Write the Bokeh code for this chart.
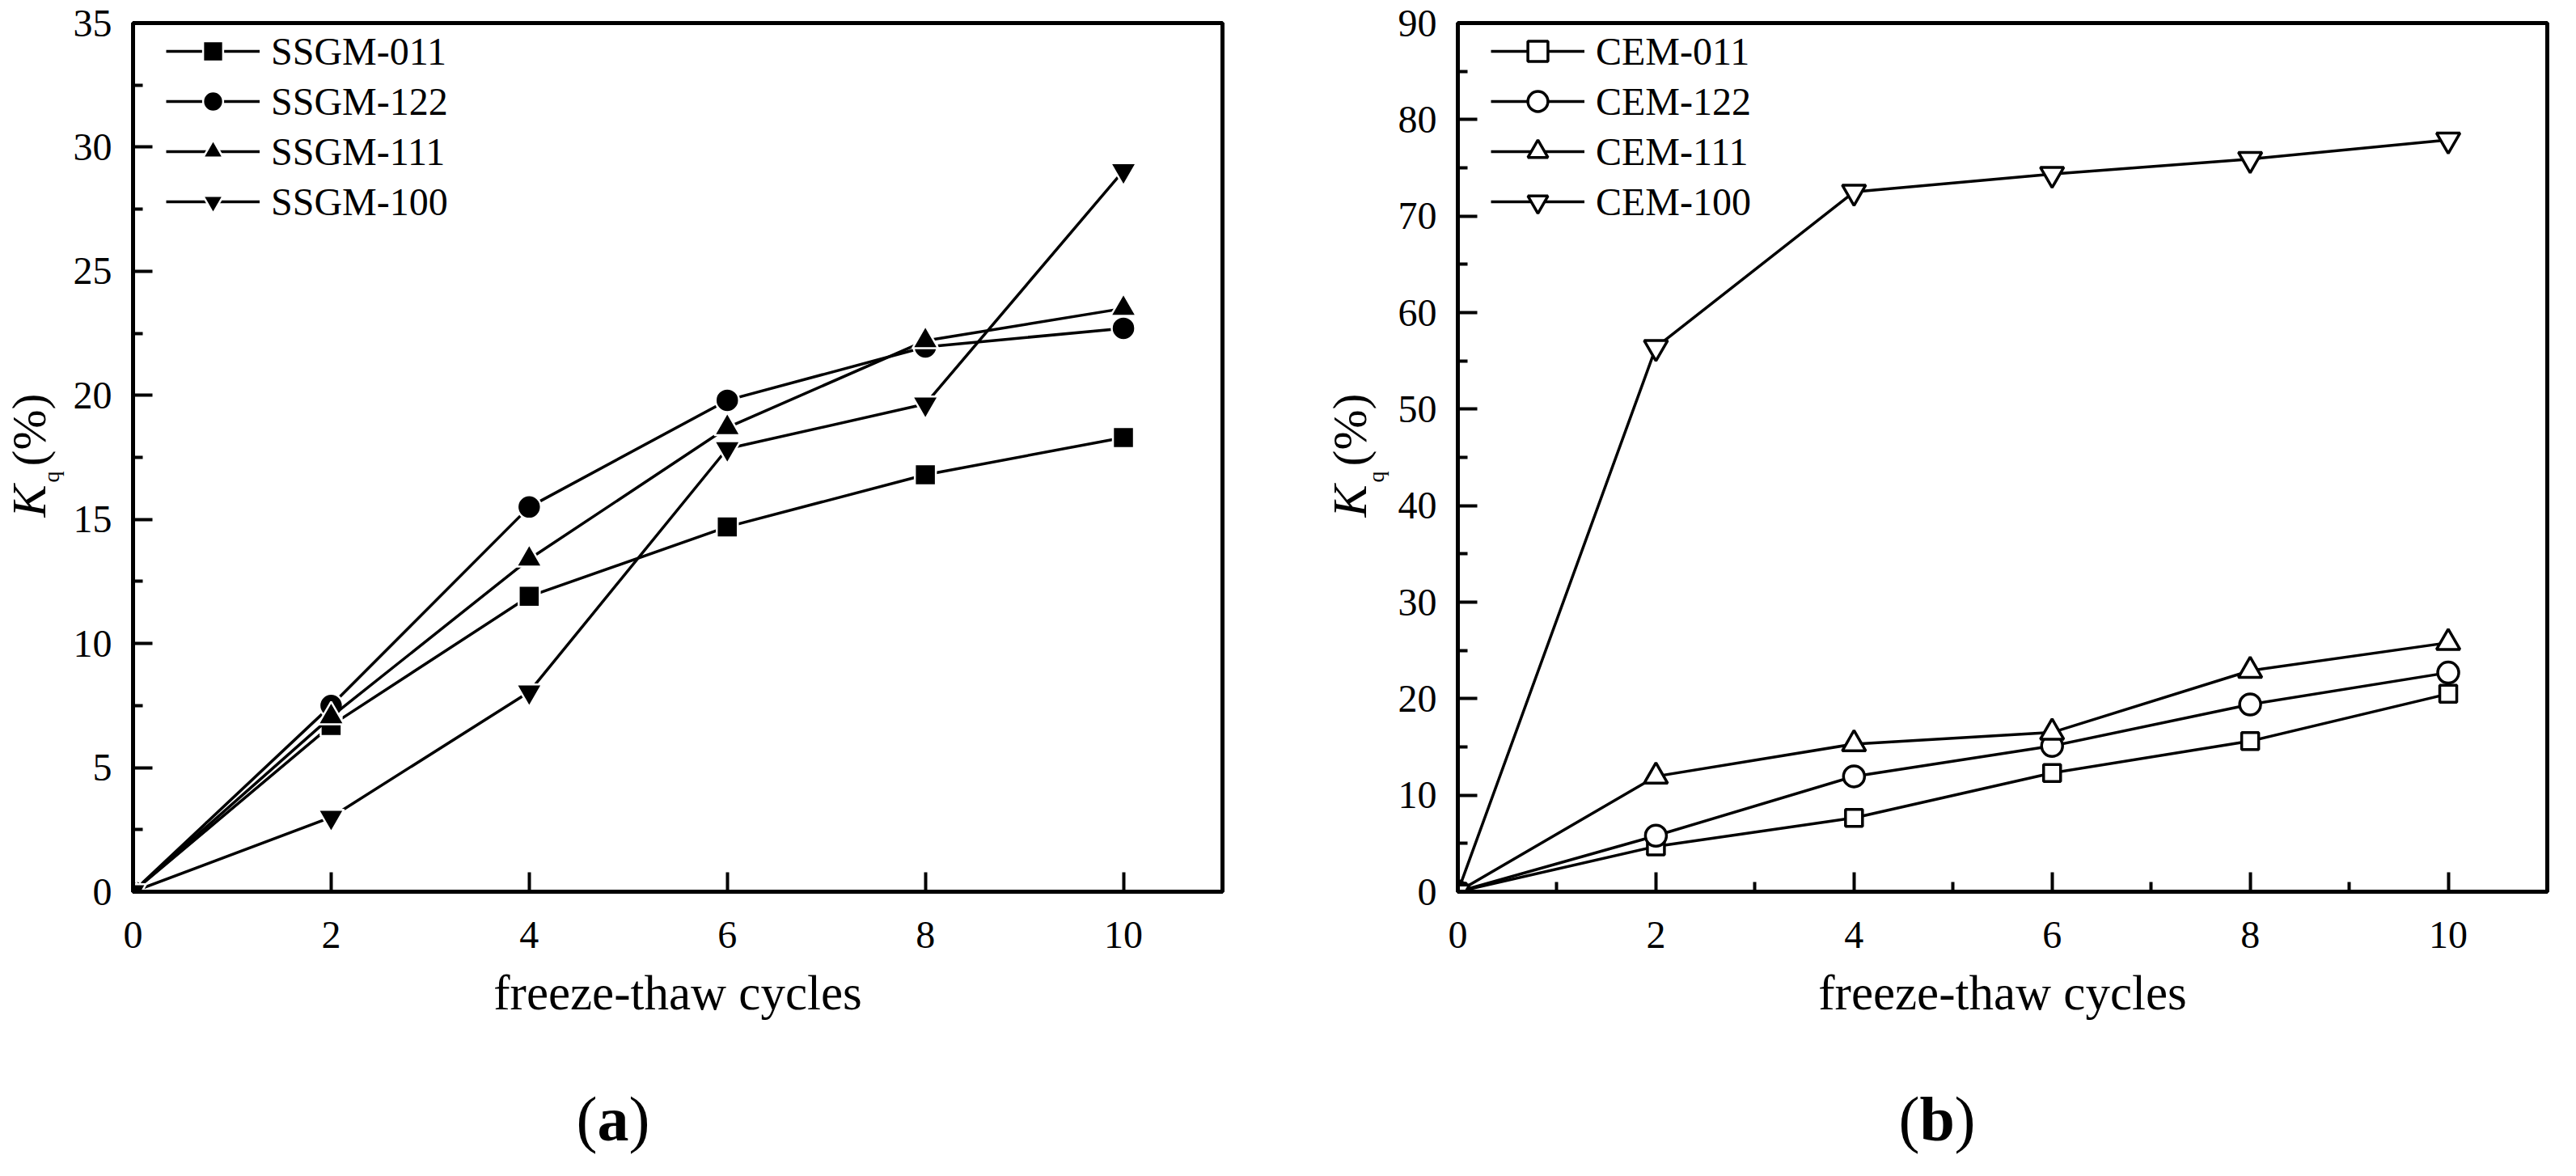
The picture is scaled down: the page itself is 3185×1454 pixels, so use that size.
import math
from bokeh.plotting import figure
from bokeh.models import Range1d, FixedTicker, Legend, LegendItem
from bokeh.layouts import row, column
from bokeh.core.properties import value
from bokeh.embed import file_html
from bokeh.resources import INLINE

# ---------------- data ----------------
cycles = [0, 2, 4, 6, 8, 10]

ssgm_names = ["SSGM-011", "SSGM-122", "SSGM-111", "SSGM-100"]
ssgm_011 = [0, 6.7, 11.9, 14.7, 16.8, 18.3]
ssgm_122 = [0, 7.5, 15.5, 19.8, 21.95, 22.7]
ssgm_111 = [0, 7.05, 13.4, 18.7, 22.2, 23.5]
ssgm_100 = [0, 3.0, 8.05, 17.85, 19.65, 29.05]

cem_names = ["CEM-011", "CEM-122", "CEM-111", "CEM-100"]
cem_011 = [0, 4.7, 7.65, 12.3, 15.6, 20.5]
cem_122 = [0, 5.8, 11.95, 15.1, 19.4, 22.7]
cem_111 = [0, 11.95, 15.3, 16.5, 22.9, 25.8]
cem_100 = [0, 56.4, 72.5, 74.35, 75.9, 77.9]

x_major = [0, 2, 4, 6, 8, 10]
x_minor_a = []
x_minor_b = [1, 3, 5, 7, 9]
y_major_a = [0, 5, 10, 15, 20, 25, 30, 35]
y_minor_a = [2.5, 7.5, 12.5, 17.5, 22.5, 27.5, 32.5]
y_major_b = [0, 10, 20, 30, 40, 50, 60, 70, 80, 90]
y_minor_b = [5, 15, 25, 35, 45, 55, 65, 75, 85]

x_title = "freeze-thaw cycles"
y_title_parts = ["K", "q", "(%)"]
tags = ["a", "b"]

markers = ["square", "circle", "triangle", "inverted_triangle"]

FONT = "Liberation Serif"
ROW_H = 1292          # page y 8 .. 1300
TOP = 28
BOTTOM = 190
STRIP_H = 146         # page y 1300 .. 1446
MID = 0.3375          # distance baseline -> em-box middle, in em


def blank(width, height):
    f = figure(frame_width=width, frame_height=height, title=None,
               x_range=Range1d(0, width), y_range=Range1d(0, height),
               x_axis_type=None, y_axis_type=None,
               output_backend="svg", toolbar_location=None, min_border=0,
               frame_align=False)
    f.outline_line_color = None
    f.background_fill_color = "white"
    f.border_fill_color = "white"
    return f


def ylabel_fig(width, kx, qoff):
    # kx: x (px, local) of the baseline of "K" / "(%)"; text anchored at em middle
    f = blank(width, ROW_H)
    rot = math.pi / 2
    f.text(x=[kx - MID * 60], y=[ROW_H + 8 - 647], text=[y_title_parts[0]], angle=rot,
           text_font=value(FONT), text_font_size="60px", text_font_style="italic",
           text_align="left", text_baseline="middle", text_color="black")
    f.text(x=[kx + qoff - MID * 28], y=[ROW_H + 8 - 604], text=[y_title_parts[1]], angle=rot,
           text_font=value(FONT), text_font_size="28px",
           text_align="left", text_baseline="middle", text_color="black")
    f.text(x=[kx - MID * 60], y=[ROW_H + 8 - 584], text=[y_title_parts[2]], angle=rot,
           text_font=value(FONT), text_font_size="60px",
           text_align="left", text_baseline="middle", text_color="black")
    return f


def make_panel(width, mleft, mright, ymax, ymaj, ymin, xmin, series, names, sizes, filled):
    p = figure(width=width, height=ROW_H, x_range=Range1d(0, 11), y_range=Range1d(0, ymax),
               title=None, output_backend="svg", toolbar_location=None,
               min_border_left=mleft, min_border_right=mright,
               min_border_top=TOP, min_border_bottom=BOTTOM, frame_align=False)
    p.background_fill_color = "white"
    p.border_fill_color = "white"
    p.outline_line_color = "black"
    p.outline_line_width = 5
    p.outline_line_alpha = 1
    p.xgrid.visible = False
    p.ygrid.visible = False

    p.xaxis.ticker = FixedTicker(ticks=x_major, minor_ticks=xmin)
    p.yaxis.ticker = FixedTicker(ticks=ymaj, minor_ticks=ymin)
    for ax in (p.xaxis[0], p.yaxis[0]):
        ax.axis_line_width = 5
        ax.axis_line_color = "black"
        ax.major_tick_in = 24
        ax.major_tick_out = 0
        ax.minor_tick_in = 12
        ax.minor_tick_out = 0
        ax.major_tick_line_width = 4
        ax.minor_tick_line_width = 4
        ax.major_tick_line_color = "black"
        ax.minor_tick_line_color = "black"
        ax.major_label_text_font = FONT
        ax.major_label_text_font_size = "48px"
        ax.major_label_text_color = "black"
    p.xaxis.major_label_standoff = 37
    p.yaxis.major_label_standoff = 26
    p.xaxis.axis_label = x_title
    p.xaxis.axis_label_text_font = FONT
    p.xaxis.axis_label_text_font_size = "61px"
    p.xaxis.axis_label_text_font_style = "normal"
    p.xaxis.axis_label_text_color = "black"
    p.xaxis.axis_label_standoff = 19

    items = []
    for vals, name, mk, sz in zip(series, names, markers, sizes):
        lr = p.line(cycles, vals, line_color="black", line_width=3.5)
        if filled:
            sr = p.scatter(cycles, vals, marker=mk, size=sz, fill_color="black",
                           line_color="white", line_width=2.5)
        else:
            sr = p.scatter(cycles, vals, marker=mk, size=sz, fill_color="white",
                           line_color="black", line_width=3.5)
        items.append(LegendItem(label=name, renderers=[lr, sr]))
    legend = Legend(items=items, location=(41, 822),
                    glyph_width=116, glyph_height=62,
                    label_height=62, label_standoff=14, spacing=0, padding=0, margin=0,
                    border_line_alpha=0, background_fill_alpha=0,
                    label_text_font=FONT, label_text_font_size="48px",
                    label_text_color="black")
    p.add_layout(legend)
    return p


# page x layout: lab1 8..88 | p1 88..1600 | lab2 1600..1726 | p2 1726..3177
lab1 = ylabel_fig(80, 59 - 8 + 5, 16)
p1 = make_panel(1512, 84, 81, 35, y_major_a, y_minor_a, x_minor_a,
                [ssgm_011, ssgm_122, ssgm_111, ssgm_100], ssgm_names,
                [26, 29, 32, 32], True)
lab2 = ylabel_fig(126, 1697 - 1600, 21)
p2 = make_panel(1451, 84, 20, 90, y_major_b, y_minor_b, x_minor_b,
                [cem_011, cem_122, cem_111, cem_100], cem_names,
                [21, 26, 29, 29], False)

# bottom strip with panel tags (a) and (b); baseline at page y 1417
strip = blank(3169, STRIP_H)
mid_y = 1300 + STRIP_H - 1417 + MID * 78
for tag, px in zip(tags, [(712, 738, 777), (2347, 2373, 2416)]):
    strip.text(x=[px[0], px[2]], y=[mid_y, mid_y], text=["(", ")"],
               text_font=value(FONT), text_font_size="78px",
               text_align="left", text_baseline="middle", text_color="black")
    strip.text(x=[px[1]], y=[mid_y], text=[tag],
               text_font=value(FONT), text_font_size="78px", text_font_style="bold",
               text_align="left", text_baseline="middle", text_color="black")

layout = column(row(lab1, p1, lab2, p2), strip)
open("out.html", "w").write(file_html(layout, INLINE))
